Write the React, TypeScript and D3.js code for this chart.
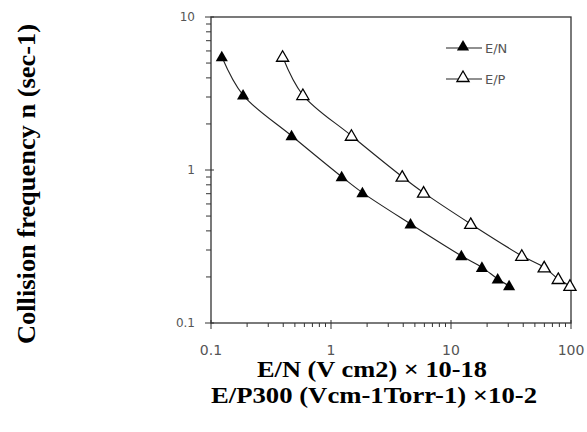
import React from "react";
import * as d3 from "d3";

// Collision frequency vs. reduced field (log-log)
const enX = [0.123, 0.185, 0.469, 1.227, 1.827, 4.6, 12.2, 18.1, 24.5, 30.5];
const epX = [0.395, 0.583, 1.48, 3.92, 5.91, 14.6, 38.9, 59.8, 78.3, 98];
const freq = [5.5, 3.09, 1.675, 0.904, 0.711, 0.444, 0.275, 0.231, 0.194, 0.175];

const xTicks = [0.1, 1, 10, 100];
const xTickLabels = ["0.1", "1", "10", "100"];
const yTicks = [0.1, 1, 10];
const yTickLabels = ["0.1", "1", "10"];
const seriesNames = ["E/N", "E/P"];

const W = 587;
const H = 432;
const L = 211;
const R = 571;
const T = 17;
const B = 323;

const x = d3.scaleLog().domain([0.1, 100]).range([L, R]);
const y = d3.scaleLog().domain([0.1, 10]).range([B, T]);

function minors(lo: number, hi: number): number[] {
  const out: number[] = [];
  for (let dec = lo; dec < hi; dec *= 10) {
    for (let k = 2; k <= 9; k++) out.push(dec * k);
  }
  return out;
}

const tri = d3.symbol().type(d3.symbolTriangle).size(64);

const line = d3
  .line<[number, number]>()
  .x((d) => x(d[0]))
  .y((d) => y(d[1]))
  .curve(d3.curveCatmullRom.alpha(0.5));

export default function App() {
  const enPts = enX.map((v, i) => [v, freq[i]] as [number, number]);
  const epPts = epX.map((v, i) => [v, freq[i]] as [number, number]);
  const axisColor = "#333";
  const tickFont = "'DejaVu Sans', sans-serif";
  const titleFont = "'Liberation Serif', 'Times New Roman', serif";

  return (
    <svg width={W} height={H} style={{ display: "block", position: "absolute", left: 0, top: 0 }}>
      <rect x={0} y={0} width={W} height={H} fill="#fff" />

      {/* frame */}
      <rect x={L} y={T} width={R - L} height={B - T} fill="none" stroke={axisColor} strokeWidth={1.3} />

      {/* y ticks */}
      {minors(0.1, 10).map((v) => (
        <line key={"ym" + v} x1={L - 5} x2={L} y1={y(v)} y2={y(v)} stroke={axisColor} strokeWidth={1} />
      ))}
      {yTicks.map((v, i) => (
        <g key={"y" + v}>
          <line x1={L - 6} x2={L + 3} y1={y(v)} y2={y(v)} stroke={axisColor} strokeWidth={1} />
          <text x={L - 16} y={y(v)} dy="0.35em" textAnchor="end" fontFamily={tickFont} fontSize={12} fill="#555">
            {yTickLabels[i]}
          </text>
        </g>
      ))}

      {/* x ticks */}
      {minors(0.1, 100).map((v) => (
        <line key={"xm" + v} x1={x(v)} x2={x(v)} y1={B} y2={B + 4} stroke={axisColor} strokeWidth={1} />
      ))}
      {xTicks.map((v, i) => (
        <g key={"x" + v}>
          <line x1={x(v)} x2={x(v)} y1={B - 3} y2={B + 6} stroke={axisColor} strokeWidth={1} />
          <text x={x(v)} y={B + 32} textAnchor="middle" fontFamily={tickFont} fontSize={14} fill="#555">
            {xTickLabels[i]}
          </text>
        </g>
      ))}

      {/* series */}
      <path d={line(enPts) || ""} fill="none" stroke="#222" strokeWidth={1.1} />
      <path d={line(epPts) || ""} fill="none" stroke="#222" strokeWidth={1.1} />
      {enPts.map((p, i) => (
        <path key={"en" + i} d={tri() || ""} transform={`translate(${x(p[0])},${y(p[1]) + 1})`} fill="#000" />
      ))}
      {epPts.map((p, i) => (
        <path
          key={"ep" + i}
          d={tri() || ""}
          transform={`translate(${x(p[0])},${y(p[1]) + 1})`}
          fill="#fff"
          stroke="#000"
          strokeWidth={1.3}
        />
      ))}

      {/* legend */}
      {seriesNames.map((name, i) => {
        const ly = 48 + i * 31;
        return (
          <g key={name}>
            <line x1={446} x2={482} y1={ly} y2={ly} stroke="#222" strokeWidth={1.1} />
            <path
              d={tri() || ""}
              transform={`translate(463,${ly - 1})`}
              fill={i === 0 ? "#000" : "#fff"}
              stroke="#000"
              strokeWidth={i === 0 ? 0 : 1.3}
            />
            <text x={485} y={ly} dy="0.35em" fontFamily={tickFont} fontSize={13} fill="#555">
              {name}
            </text>
          </g>
        );
      })}

      {/* axis titles */}
      <text
        x={372}
        y={377}
        textAnchor="middle"
        fontFamily={titleFont}
        fontWeight="bold"
        fontSize={23}
        fill="#000"
        textLength={230}
        lengthAdjust="spacingAndGlyphs"
      >
        E/N (V cm2) × 10-18
      </text>
      <text
        x={374}
        y={403}
        textAnchor="middle"
        fontFamily={titleFont}
        fontWeight="bold"
        fontSize={23}
        fill="#000"
        textLength={326}
        lengthAdjust="spacingAndGlyphs"
      >
        E/P300 (Vcm-1Torr-1) ×10-2
      </text>
      <text
        transform={`translate(35,184) rotate(-90)`}
        textAnchor="middle"
        fontFamily={titleFont}
        fontWeight="bold"
        fontSize={25}
        fill="#000"
        textLength={320}
        lengthAdjust="spacingAndGlyphs"
      >
        Collision frequency n (sec-1)
      </text>
    </svg>
  );
}
